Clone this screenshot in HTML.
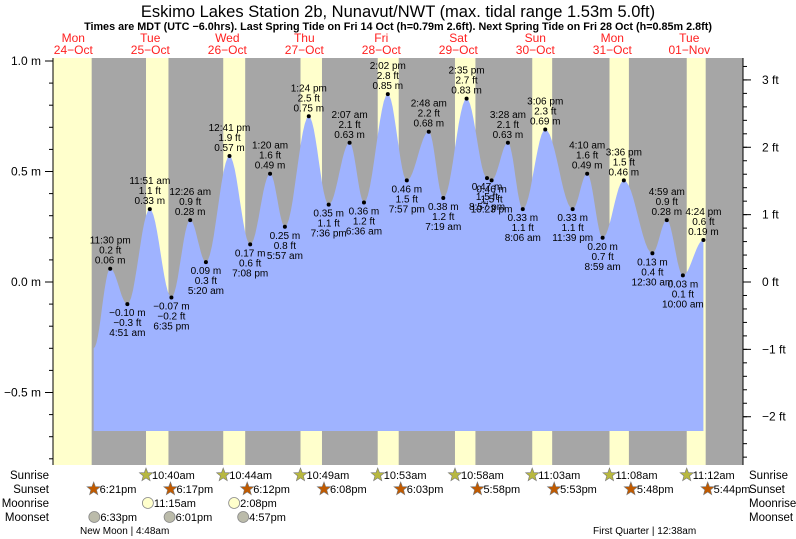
<!DOCTYPE html>
<html><head><meta charset="utf-8">
<style>
html,body{margin:0;padding:0;background:#fff;}
svg{display:block;font-family:"Liberation Sans",sans-serif;}
</style></head>
<body>
<svg id="chart" width="796" height="539" viewBox="0 0 796 539" xmlns="http://www.w3.org/2000/svg">
<text x="398" y="17" text-anchor="middle" font-size="16.5">Eskimo Lakes Station 2b, Nunavut/NWT (max. tidal range 1.53m 5.0ft)</text>
<text x="398" y="30" text-anchor="middle" font-size="10.8" font-weight="bold">Times are MDT (UTC −6.0hrs). Last Spring Tide on Fri 14 Oct (h=0.79m 2.6ft). Next Spring Tide on Fri 28 Oct (h=0.85m 2.8ft)</text>
<g id="bg"></g><g id="water"></g><g id="axes"></g><g id="labels"></g><g id="astro"></g>
<text x="80" y="534" font-size="10">New Moon | 4:48am</text>
<text x="593" y="534" font-size="10">First Quarter | 12:38am</text>
</svg>
<script>
const dayNames=["Mon","Tue","Wed","Thu","Fri","Sat","Sun","Mon","Tue"];
const dayDates=["24\u2212Oct","25\u2212Oct","26\u2212Oct","27\u2212Oct","28\u2212Oct","29\u2212Oct","30\u2212Oct","31\u2212Oct","01\u2212Nov"];
const sunriseTimes=["","10:40am","10:44am","10:49am","10:53am","10:58am","11:03am","11:08am","11:12am"];
const sunsetTimes=["6:21pm","6:17pm","6:12pm","6:08pm","6:03pm","5:58pm","5:53pm","5:48pm","5:44pm"];
const moonriseDays=[1,2];
const moonriseTimes=["11:15am","2:08pm"];
const moonsetDays=[0,1,2];
const moonsetTimes=["6:33pm","6:01pm","4:57pm"];
const tideDays=[0,1,1,1,2,2,2,2,3,3,3,3,4,4,4,4,5,5,5,5,5,6,6,6,6,7,7,7,8,8,8,8];
const tideTimes=["11:30pm","4:51am","11:51am","6:35pm","12:26am","5:20am","12:41pm","7:08pm","1:20am","5:57am","1:24pm","7:36pm","2:07am","6:36am","2:02pm","7:57pm","2:48am","7:19am","2:35pm","8:57pm","10:23pm","3:28am","8:06am","3:06pm","11:39pm","4:10am","8:59am","3:36pm","12:30am","4:59am","10:00am","4:24pm"];
const tideMeters=[0.06,-0.10,0.33,-0.07,0.28,0.09,0.57,0.17,0.49,0.25,0.75,0.35,0.63,0.36,0.85,0.46,0.68,0.38,0.83,0.47,0.46,0.63,0.33,0.69,0.33,0.49,0.20,0.46,0.13,0.28,0.03,0.19];
const startLevel=-0.30;
const mTicks=[1.0,0.5,0.0,-0.5];
const mTickLabels=["1.0 m","0.5 m","0.0 m","\u22120.5 m"];
const ftTicks=[3,2,1,0,-1,-2];
const ftTickLabels=["3 ft","2 ft","1 ft","0 ft","\u22121 ft","\u22122 ft"];

const NS="http://www.w3.org/2000/svg";
const X0=53,X1=743,Y0=58,Y1=465,FILLB=431;
function xH(h){return 34.8+h*3.2083;}
function yM(m){return 282-m*221;}
function yF(f){return yM(f*0.3048);}
function hrs(t){let m=t.match(/(\d+):(\d+)\s*(am|pm)/);let h=+m[1]%12;if(m[3]=="pm")h+=12;return h+ +m[2]/60;}
function mk(tag,at,parent,txt){const e=document.createElementNS(NS,tag);for(const k in at)e.setAttribute(k,at[k]);if(txt!==undefined)e.textContent=txt;parent.appendChild(e);return e;}
const bg=document.getElementById('bg'),water=document.getElementById('water'),axes=document.getElementById('axes'),labels=document.getElementById('labels'),astro=document.getElementById('astro');
const fmt=v=>(v<0?"\u2212":"")+Math.abs(v).toFixed(2)+" m";
const fmtF=v=>(v<0?"\u2212":"")+Math.abs(v).toFixed(1)+" ft";

let r=mk('rect',{x:X0,y:Y0,width:X1-X0,height:Y1-Y0,fill:'#a6a6a6'},bg);

for(let d=0;d<9;d++){
  const sr=sunriseTimes[d]?xH(d*24+hrs(sunriseTimes[d])):X0;
  const ss=xH(d*24+hrs(sunsetTimes[d]))-2;
  const e=mk('rect',{x:sr,y:Y0,width:Math.min(ss,X1)-sr,height:Y1-Y0,fill:'#ffffcc'},bg);
  
  
  const t1=mk('text',{x:xH(d*24+12),y:42,'text-anchor':'middle','font-size':12,fill:'#ff2020'},labels,dayNames[d]);
  
  
  const t2=mk('text',{x:xH(d*24+12),y:54,'text-anchor':'middle','font-size':12,fill:'#ff2020'},labels,dayDates[d]);
  
  
}
const hs=tideTimes.map((t,i)=>tideDays[i]*24+hrs(t));
const startH=hrs(sunsetTimes[0]);
const pts=[[startH,startLevel]].concat(hs.map((h,i)=>[h,tideMeters[i]]));
let d="M"+xH(startH)+","+FILLB;
for(let i=0;i<pts.length-1;i++){
  const [ha,ma]=pts[i],[hb,mb]=pts[i+1];
  for(let s=0;s<=12;s++){const f=s/12;const v=ma+(mb-ma)*(1-Math.cos(Math.PI*f))/2;d+=" L"+xH(ha+(hb-ha)*f).toFixed(1)+","+yM(v).toFixed(1);}
}
d+=" L"+xH(pts[pts.length-1][0])+","+FILLB+"Z";
const wp=mk('path',{d:d,fill:'#9fb3ff'},water);

hs.forEach((h,i)=>{
  const x=xH(h),y=yM(tideMeters[i]);
  const prevM=i>0?tideMeters[i-1]:startLevel;
  const high=tideMeters[i]>prevM;
  const dot=mk('circle',{cx:x,cy:y,r:2,fill:'#000'},labels);
  
  
  const lines=high?[tideTimes[i].replace(/(am|pm)/," $1"),fmtF(tideMeters[i]*3.28084),fmt(tideMeters[i])]:[fmt(tideMeters[i]),fmtF(tideMeters[i]*3.28084),tideTimes[i].replace(/(am|pm)/," $1")];
  const ys=high?[y-25,y-15,y-5]:[y+12,y+22,y+32];
  lines.forEach((s,k)=>{
    const t=mk('text',{x:x,y:ys[k],'text-anchor':'middle','font-size':10},labels,s);
    
    
  });
});
mk('line',{x1:X0,y1:Y0,x2:X0,y2:Y1,stroke:'#000'},axes);
mk('line',{x1:X1,y1:Y0,x2:X1,y2:Y1,stroke:'#000'},axes);
for(let v=-0.8;v<=1.001;v+=0.1){const y=yM(v);if(y<Y0||y>Y1)continue;mk('line',{x1:X0-4,y1:y,x2:X0,y2:y,stroke:'#000'},axes);}
mTicks.forEach((v,i)=>{const y=yM(v);mk('line',{x1:X0-8,y1:y,x2:X0,y2:y,stroke:'#000'},axes);
  const t=mk('text',{x:X0-12,y:y+4,'text-anchor':'end','font-size':12},axes,mTickLabels[i]);
  });
for(let f=-2.8;f<=3.4;f+=0.2){const y=yF(f);if(y<Y0||y>Y1)continue;mk('line',{x1:X1,y1:y,x2:X1+4,y2:y,stroke:'#000'},axes);}
ftTicks.forEach((v,i)=>{const y=yF(v);mk('line',{x1:X1,y1:y,x2:X1+8,y2:y,stroke:'#000'},axes);
  const t=mk('text',{x:X1+19,y:y+4,'font-size':12},axes,ftTickLabels[i]);
  });
const rows=[["Sunrise",479],["Sunset",493],["Moonrise",507],["Moonset",521]];
rows.forEach(([n,y])=>{
  const a=mk('text',{x:49,y:y,'text-anchor':'end','font-size':11.5},astro,n);
  
  const b=mk('text',{x:749,y:y,'font-size':11.5},astro,n);
  
});
function star(cx,cy,fill){let p="";for(let k=0;k<10;k++){const rr=k%2?3:7;const a=-Math.PI/2+k*Math.PI/5;p+=(cx+rr*Math.cos(a)).toFixed(1)+","+(cy+rr*Math.sin(a)).toFixed(1)+" ";}return mk('polygon',{points:p,fill:fill,stroke:'#777','stroke-width':0.6},astro);}
function item(h,y,txt,kind){
  const x=xH(h);let ic;
  if(kind=="sr")ic=star(x,y-4,'#b8b840');
  else if(kind=="ss")ic=star(x,y-4,'#c05a00');
  else ic=mk('circle',{cx:x,cy:y-4,r:5.5,fill:kind=="mr"?'#ffffcc':'#bbbbaa',stroke:'#888','stroke-width':0.8},astro);
  
  const t=mk('text',{x:x+6,y:y,'font-size':11},astro,txt);
  
}
sunriseTimes.forEach((s,dI)=>{if(s)item(dI*24+hrs(s),479,s,"sr");});
sunsetTimes.forEach((s,dI)=>item(dI*24+hrs(s),493,s,"ss"));
moonriseTimes.forEach((s,i)=>item(moonriseDays[i]*24+hrs(s),507,s,"mr"));
moonsetTimes.forEach((s,i)=>item(moonsetDays[i]*24+hrs(s),521,s,"ms"));
</script>
</body></html>
